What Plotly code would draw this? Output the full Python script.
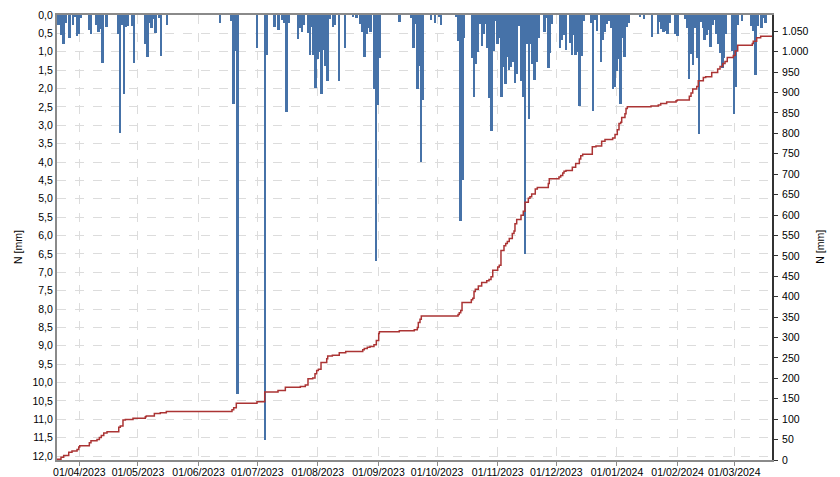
import plotly.graph_objects as go

# Niederschlag je Tag [mm] (linke Achse, nach unten)
bar_dates = [
    "2023-03-21", "2023-03-22", "2023-03-23", "2023-03-24", "2023-03-25", "2023-03-27", "2023-03-29", "2023-03-30", "2023-03-31",
    "2023-04-01", "2023-04-02", "2023-04-06", "2023-04-07", "2023-04-10", "2023-04-11", "2023-04-12", "2023-04-13", "2023-04-15",
    "2023-04-21", "2023-04-22", "2023-04-23", "2023-04-24", "2023-04-25", "2023-04-26", "2023-04-28", "2023-04-29",
    "2023-05-05", "2023-05-06", "2023-05-07", "2023-05-08", "2023-05-09", "2023-05-10", "2023-05-12", "2023-05-13", "2023-05-16",
    "2023-06-12", "2023-06-18", "2023-06-19", "2023-06-20", "2023-06-21",
    "2023-07-01", "2023-07-05", "2023-07-06", "2023-07-10", "2023-07-12", "2023-07-14", "2023-07-15", "2023-07-16", "2023-07-17",
    "2023-07-22", "2023-07-23", "2023-07-24", "2023-07-25", "2023-07-27", "2023-07-28", "2023-07-29", "2023-07-30", "2023-07-31",
    "2023-08-01", "2023-08-02", "2023-08-03", "2023-08-04", "2023-08-05", "2023-08-06", "2023-08-07", "2023-08-09", "2023-08-10",
    "2023-08-12", "2023-08-15", "2023-08-19", "2023-08-21", "2023-08-23", "2023-08-24", "2023-08-25", "2023-08-26", "2023-08-27",
    "2023-08-28", "2023-08-30", "2023-08-31",
    "2023-09-01", "2023-09-02", "2023-09-12", "2023-09-18", "2023-09-19", "2023-09-20", "2023-09-21", "2023-09-22", "2023-09-23",
    "2023-09-24", "2023-09-28", "2023-09-30",
    "2023-10-02", "2023-10-03", "2023-10-11", "2023-10-12", "2023-10-13", "2023-10-14", "2023-10-15", "2023-10-19", "2023-10-20",
    "2023-10-21", "2023-10-22", "2023-10-23", "2023-10-24", "2023-10-25", "2023-10-26", "2023-10-27", "2023-10-28", "2023-10-29",
    "2023-10-30", "2023-10-31",
    "2023-11-01", "2023-11-02", "2023-11-03", "2023-11-04", "2023-11-05", "2023-11-06", "2023-11-07", "2023-11-08", "2023-11-09",
    "2023-11-10", "2023-11-11", "2023-11-12", "2023-11-13", "2023-11-14", "2023-11-15", "2023-11-16", "2023-11-17", "2023-11-18",
    "2023-11-19", "2023-11-20", "2023-11-21", "2023-11-22", "2023-11-25", "2023-11-26", "2023-11-27", "2023-11-28", "2023-11-29",
    "2023-12-03", "2023-12-04", "2023-12-05", "2023-12-06", "2023-12-08", "2023-12-09", "2023-12-10", "2023-12-11", "2023-12-12",
    "2023-12-13", "2023-12-14", "2023-12-15", "2023-12-19", "2023-12-20", "2023-12-21", "2023-12-22", "2023-12-24", "2023-12-25",
    "2023-12-26", "2023-12-27", "2023-12-28", "2023-12-29", "2023-12-30", "2023-12-31",
    "2024-01-01", "2024-01-02", "2024-01-03", "2024-01-04", "2024-01-05", "2024-01-06", "2024-01-07", "2024-01-13", "2024-01-15",
    "2024-01-19", "2024-01-22", "2024-01-23", "2024-01-24", "2024-01-25", "2024-01-26", "2024-01-27", "2024-01-28", "2024-01-31",
    "2024-02-01", "2024-02-05", "2024-02-06", "2024-02-07", "2024-02-08", "2024-02-09", "2024-02-10", "2024-02-11", "2024-02-12",
    "2024-02-13", "2024-02-14", "2024-02-15", "2024-02-16", "2024-02-17", "2024-02-18", "2024-02-19", "2024-02-20", "2024-02-21",
    "2024-02-22", "2024-02-23", "2024-02-24", "2024-02-25", "2024-02-26", "2024-02-29",
    "2024-03-01", "2024-03-02", "2024-03-03", "2024-03-05", "2024-03-10", "2024-03-11", "2024-03-12", "2024-03-13", "2024-03-15",
    "2024-03-16", "2024-03-17",
]
bar_mm = [
    0.28, 0.28, 0.55, 0.78, 0.22, 0.62, 0.28, 0.05, 0.58,
    0.52, 0.07, 0.42, 0.53, 0.28, 0.45, 0.38, 1.30, 0.32,
    0.53, 3.20, 0.28, 2.15, 0.32, 0.30, 0.30, 1.30,
    0.80, 1.15, 0.22, 0.35, 0.10, 0.48, 0.07, 1.12, 0.28,
    0.22, 0.15, 2.42, 0.98, 10.30,
    0.90, 11.55, 1.10, 0.33, 0.41, 0.13, 0.21, 2.65, 0.21,
    0.64, 0.34, 0.46, 0.28, 0.49, 1.10, 0.33, 1.10, 1.98,
    1.20, 1.00, 2.14, 0.96, 1.40, 1.80, 0.10, 0.33, 0.28,
    1.80, 0.89, 0.06, 0.08, 0.24, 0.46, 1.13, 0.52, 0.36,
    0.46, 2.00, 6.70,
    2.46, 1.16, 0.18, 0.09, 0.89, 0.24, 2.00, 1.40, 4.00,
    2.30, 0.13, 0.22,
    0.06, 0.27, 0.04, 0.71, 5.60, 4.50, 0.62, 1.16, 2.22,
    1.33, 1.00, 0.25, 0.85, 0.52, 0.25, 0.89, 2.27, 3.16,
    0.97, 0.15,
    0.79, 0.62, 2.24, 1.41, 1.87, 1.13, 1.50, 1.41, 1.27,
    1.85, 1.60, 0.31, 1.80, 2.24, 6.50, 0.79, 2.83, 0.80,
    1.33, 1.76, 1.27, 0.62, 0.46, 0.09, 1.44, 1.03, 0.24,
    0.91, 0.67, 0.55, 0.96, 0.75, 1.09, 0.55, 1.09, 1.00,
    2.47, 1.11, 0.16, 0.22, 2.62, 0.13, 0.44, 1.29, 0.69,
    0.46, 0.25, 0.16, 0.36, 2.00, 1.96,
    1.51, 1.20, 2.42, 0.62, 1.13, 0.33, 0.22, 0.06, 0.10,
    0.60, 0.52, 0.20, 0.38, 0.46, 0.44, 0.53, 0.22, 0.53,
    0.58, 0.10, 0.36, 1.74, 1.05, 1.36, 0.36, 1.18, 3.25,
    0.18, 0.36, 0.69, 0.55, 0.41, 0.87, 0.27, 0.13, 0.53,
    0.79, 1.03, 1.44, 1.18, 0.53, 0.97,
    2.69, 1.96, 0.27, 0.16, 0.31, 0.44, 1.62, 0.31, 0.36,
    0.09, 0.22,
]

# Summenlinie [mm] (rechte Achse)
sum_times = [
    "2023-03-20 14:00", "2023-03-22 15:00", "2023-03-24 00:00", "2023-03-26 14:00", "2023-03-28 06:00", "2023-03-30 20:00",
    "2023-03-31 17:00", "2023-04-01 05:00", "2023-04-06 03:00", "2023-04-06 23:00", "2023-04-10 01:00", "2023-04-11 06:00",
    "2023-04-12 06:00", "2023-04-13 12:00", "2023-04-15 04:00", "2023-04-21 04:00", "2023-04-21 23:00", "2023-04-23 08:00",
    "2023-04-24 13:00", "2023-04-28 11:00", "2023-05-04 18:00", "2023-05-05 06:00", "2023-05-09 09:00", "2023-05-12 10:00",
    "2023-05-15 12:00", "2023-06-18 02:00", "2023-06-18 23:00", "2023-06-20 07:00", "2023-06-30 21:00", "2023-07-04 20:00",
    "2023-07-11 15:00", "2023-07-15 09:00", "2023-07-23 01:00", "2023-07-25 14:00", "2023-07-26 23:00", "2023-07-29 09:00",
    "2023-07-30 13:00", "2023-07-31 10:00", "2023-08-01 06:00", "2023-08-02 15:00", "2023-08-05 13:00", "2023-08-06 01:00",
    "2023-08-08 10:00", "2023-08-11 23:00", "2023-08-15 06:00", "2023-08-23 23:00", "2023-08-24 18:00", "2023-08-26 07:00",
    "2023-08-27 16:00", "2023-08-29 17:00", "2023-08-30 22:00", "2023-09-01 03:00", "2023-09-01 11:00", "2023-09-11 16:00",
    "2023-09-19 08:00", "2023-09-20 21:00", "2023-09-21 09:00", "2023-09-22 06:00", "2023-09-22 22:00", "2023-10-11 17:00",
    "2023-10-12 08:00", "2023-10-13 02:00", "2023-10-13 18:00", "2023-10-18 12:00", "2023-10-19 05:00", "2023-10-19 21:00",
    "2023-10-20 13:00", "2023-10-22 02:00", "2023-10-23 19:00", "2023-10-26 09:00", "2023-10-27 13:00", "2023-10-28 14:00",
    "2023-10-29 11:00", "2023-11-01 00:00", "2023-11-01 19:00", "2023-11-02 16:00", "2023-11-04 05:00", "2023-11-05 02:00",
    "2023-11-05 22:00", "2023-11-06 22:00", "2023-11-08 11:00", "2023-11-09 08:00", "2023-11-09 20:00", "2023-11-10 17:00",
    "2023-11-12 22:00", "2023-11-14 02:00", "2023-11-14 23:00", "2023-11-16 16:00", "2023-11-17 12:00", "2023-11-18 09:00",
    "2023-11-20 05:00", "2023-11-21 06:00", "2023-11-26 21:00", "2023-11-27 09:00", "2023-12-02 08:00", "2023-12-03 05:00",
    "2023-12-04 06:00", "2023-12-04 22:00", "2023-12-05 22:00", "2023-12-09 04:00", "2023-12-10 21:00", "2023-12-12 18:00",
    "2023-12-13 11:00", "2023-12-14 11:00", "2023-12-19 09:00", "2023-12-21 06:00", "2023-12-24 04:00", "2023-12-25 21:00",
    "2023-12-29 19:00", "2023-12-31 00:00", "2024-01-01 04:00", "2024-01-02 01:00", "2024-01-02 22:00", "2024-01-03 10:00",
    "2024-01-05 02:00", "2024-01-05 15:00", "2024-01-06 07:00", "2024-01-18 10:00", "2024-01-22 03:00", "2024-01-23 09:00",
    "2024-01-26 10:00", "2024-01-31 05:00", "2024-01-31 20:00", "2024-02-07 00:00", "2024-02-07 21:00", "2024-02-08 18:00",
    "2024-02-10 19:00", "2024-02-11 14:00", "2024-02-14 04:00", "2024-02-15 09:00", "2024-02-18 11:00", "2024-02-21 12:00",
    "2024-02-22 17:00", "2024-02-24 02:00", "2024-02-25 06:00", "2024-02-26 10:00", "2024-02-29 12:00", "2024-03-01 12:00",
    "2024-03-02 18:00", "2024-03-10 05:00", "2024-03-10 17:00", "2024-03-12 11:00", "2024-03-14 12:00", "2024-03-20 07:00",
]
sum_mm = [
    2, 6.5, 11, 19, 22, 26,
    32, 35, 42, 47, 50, 55,
    60, 66, 69, 80, 83, 98,
    99, 102, 106, 108, 114, 116,
    118.5, 123, 128, 139, 142.6, 166.6,
    170, 178, 180, 183.5, 199, 201,
    211, 219, 222, 239, 248, 255,
    256.5, 263, 266, 270, 273, 276,
    278, 282, 292.5, 310, 314, 316.5,
    319, 324.5, 336.5, 344.5, 352.6, 356.5,
    360.6, 366, 386, 392.6, 396, 412.8,
    418, 426, 435, 439, 442, 449,
    465, 473, 477, 513, 525, 530.6,
    535.4, 542.6, 554.6, 561, 578.6, 589,
    599.3, 609, 631.5, 641, 645, 651.5,
    663.5, 667.6, 677, 689, 693, 697,
    703, 707, 709, 717, 726, 737,
    745, 749, 767, 769, 781, 785,
    788.5, 797, 809, 824, 827, 839,
    848, 861, 865, 867, 869.5, 873,
    877, 880, 882, 891, 899, 909,
    915, 929, 937, 939, 949, 958,
    964, 971, 976, 986, 991, 1002,
    1016, 1020, 1026, 1034, 1038, 1038,
]

month_ticks = ["2023-04-01", "2023-05-01", "2023-06-01", "2023-07-01", "2023-08-01", "2023-09-01",
               "2023-10-01", "2023-11-01", "2023-12-01", "2024-01-01", "2024-02-01", "2024-03-01"]

FONT = "Liberation Sans, Arial, sans-serif"
GRID = "#dcdcdc"

fig = go.Figure()
fig.add_trace(go.Bar(x=bar_dates, y=bar_mm, width=86400000, marker=dict(color="#4672a8", line=dict(width=0)),
                     yaxis="y", showlegend=False))
fig.add_trace(go.Scatter(x=sum_times, y=sum_mm, mode="lines", line=dict(color="#ab3434", width=1.5, shape="hv"),
                         yaxis="y2", showlegend=False))

# die Seite hat 8px Rand, deshalb Ränder entsprechend verschoben
fig.update_layout(
    width=840, height=477,
    margin=dict(l=49, r=76, t=7, b=25),
    paper_bgcolor="white", plot_bgcolor="white",
    separators=",.",
    font=dict(family=FONT, size=10.5, color="#000000"),
    bargap=0,
    xaxis=dict(type="date", range=["2023-03-20 14:00", "2024-03-20 07:00"],
               tickvals=month_ticks, tickformat="%d/%m/%Y", automargin=False,
               showgrid=True, gridcolor=GRID, griddash="dash", gridwidth=1,
               showline=True, linecolor="#8a8a8a", linewidth=2, mirror=True,
               ticks="outside", ticklen=4, tickcolor="#8a8a8a", ticklabelstandoff=-3, zeroline=False),
    yaxis=dict(range=[12.107, 0], tick0=0, dtick=0.5, tickformat=".1f", automargin=False,
               showgrid=True, gridcolor=GRID, griddash="dash", gridwidth=1,
               showline=True, linecolor="#8a8a8a", linewidth=2, ticklabeloverflow="allow",
               ticks="", zeroline=False),
    yaxis2=dict(overlaying="y", side="right", range=[0, 1090], tick0=0, dtick=50, tickformat=",d",
                automargin=False, showgrid=False, showline=True, linecolor="#333333", linewidth=2,
                ticks="outside", ticklen=4, tickcolor="#333333", ticklabelstandoff=2, zeroline=False),
    annotations=[
        dict(text="N [mm]", xref="paper", yref="paper", x=-0.0545, y=0.479, textangle=-90,
             showarrow=False, xanchor="center", yanchor="middle", font=dict(size=10.5)),
        dict(text="N [mm]", xref="paper", yref="paper", x=1.067, y=0.479, textangle=-90,
             showarrow=False, xanchor="center", yanchor="middle", font=dict(size=10.5)),
    ],
)

fig.write_html("out.html")
